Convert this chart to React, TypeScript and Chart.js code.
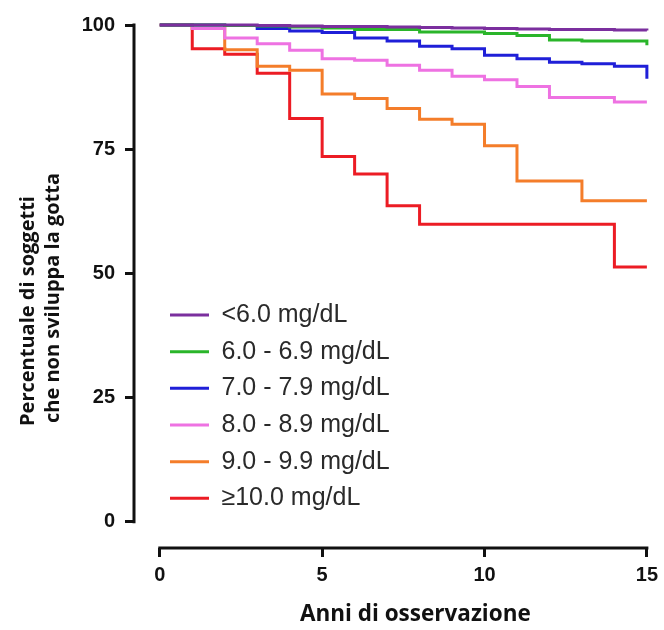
import { useEffect, useRef } from "react";
import { Chart, registerables } from "chart.js";

Chart.register(...registerables);

// ---- data ----
const years = [0, 1, 2, 3, 4, 5, 6, 7, 8, 9, 10, 11, 12, 13, 14, 15];
const seriesLabels = [
  "<6.0 mg/dL",
  "6.0 - 6.9 mg/dL",
  "7.0 - 7.9 mg/dL",
  "8.0 - 8.9 mg/dL",
  "9.0 - 9.9 mg/dL",
  "≥10.0 mg/dL",
];
const below6 = [100, 100, 100, 99.9, 99.8, 99.7, 99.7, 99.6, 99.5, 99.4, 99.3, 99.2, 99.1, 99.1, 99.0, 98.9];
const from6to69 = [100, 100, 99.9, 99.8, 99.6, 99.4, 99.1, 99.1, 98.6, 98.6, 98.3, 97.9, 97.0, 96.8, 96.8, 95.9];
const from7to79 = [100, 100, 99.9, 99.3, 98.8, 98.5, 97.4, 96.8, 95.7, 95.2, 93.9, 93.2, 92.5, 92.2, 91.7, 89.2];
const from8to89 = [100, 99.3, 97.4, 96.2, 94.9, 93.2, 92.9, 91.9, 90.9, 89.7, 89.0, 87.6, 85.4, 85.4, 84.5, 84.5];
const from9to99 = [100, 99.3, 95.0, 91.7, 90.9, 86.1, 85.2, 83.2, 81.0, 80.0, 75.7, 68.6, 68.6, 64.6, 64.6, 64.6];
const atLeast10 = [100, 95.2, 94.1, 90.3, 81.2, 73.5, 70.0, 63.6, 59.9, 59.9, 59.9, 59.9, 59.9, 59.9, 51.3, 51.3];
const seriesValues = [below6, from6to69, from7to79, from8to89, from9to99, atLeast10];
const seriesColors = ["#7b2f9e", "#2ab52a", "#1f1fd8", "#ee72e2", "#f47d2a", "#ec1c24"];
const xTicks = [0, 5, 10, 15];
const yTicks = [0, 25, 50, 75, 100];
const xTitle = "Anni di osservazione";
const yTitleLines = ["Percentuale di soggetti", "che non sviluppa la gotta"];

const AXIS_COLOR = "#111111";

const prismAxes = {
  id: "prismAxes",
  afterLayout(chart: any) {
    const lg = chart.legend;
    if (lg) {
      const ca = chart.chartArea;
      const pad = lg.options.labels.padding;
      lg.left = ca.left + 36 - pad;
      lg.right = ca.right;
      lg.top = 302.5 - pad;
      lg.bottom = ca.bottom;
      lg.width = lg.right - lg.left;
      lg.height = lg.bottom - lg.top;
    }
  },
  afterDraw(chart: any) {
    const { ctx, chartArea, scales } = chart;
    const x = scales.x;
    const y = scales.y;
    ctx.save();
    ctx.strokeStyle = AXIS_COLOR;
    ctx.lineWidth = 3;
    ctx.lineCap = "square";
    const ax = chartArea.left;
    ctx.beginPath();
    ctx.moveTo(ax, y.getPixelForValue(yTicks[yTicks.length - 1]));
    ctx.lineTo(ax, y.getPixelForValue(yTicks[0]));
    ctx.stroke();
    const ay = chartArea.bottom;
    ctx.beginPath();
    ctx.moveTo(x.getPixelForValue(xTicks[0]), ay);
    ctx.lineTo(x.getPixelForValue(xTicks[xTicks.length - 1]), ay);
    ctx.stroke();

    ctx.fillStyle = AXIS_COLOR;
    ctx.font = 'bold 22.5px "Open Sans"';
    ctx.textAlign = "center";
    ctx.textBaseline = "alphabetic";
    const xc = (x.getPixelForValue(xTicks[0]) + x.getPixelForValue(xTicks[xTicks.length - 1])) / 2 + 12;
    ctx.fillText(xTitle, xc, 621);

    ctx.font = 'bold 20px "Open Sans"';
    const centers = [311, 298];
    const baselines = [34, 59];
    yTitleLines.forEach((line, i) => {
      ctx.save();
      ctx.translate(baselines[i], centers[i]);
      ctx.rotate(-Math.PI / 2);
      ctx.fillText(line, 0, 0);
      ctx.restore();
    });
    ctx.restore();
  },
};

export default function App() {
  const ref = useRef<HTMLCanvasElement | null>(null);

  useEffect(() => {
    if (!ref.current) return;
    const datasets = seriesValues.map((vals, i) => ({
      label: seriesLabels[i],
      data: years.map((t, j) => ({ x: t, y: vals[j] })),
      borderColor: seriesColors[i],
      backgroundColor: seriesColors[i],
      borderWidth: 3,
      stepped: true as const,
      pointRadius: 0,
      fill: false,
      clip: false as const,
    }));

    const tickFont = { family: '"Liberation Sans", Arial, sans-serif', size: 20, weight: "bold" as const };

    const chart = new Chart(ref.current, {
      type: "line",
      data: { datasets },
      plugins: [prismAxes],
      options: {
        animation: false,
        responsive: false,
        layout: { padding: { top: 25, right: 13, bottom: 0, left: 0 } },
        plugins: {
          tooltip: { enabled: false },
          legend: {
            position: "chartArea" as any,
            align: "start",
            labels: {
              font: { family: '"Liberation Sans", Arial, sans-serif', size: 25 },
              color: "#2a2a2a",
              boxWidth: 39,
              boxHeight: 3,
              padding: 11.66,
              generateLabels: (c: any) =>
                Chart.defaults.plugins.legend.labels.generateLabels(c).map((l: any) => ({
                  ...l,
                  lineWidth: 0,
                  fillStyle: l.strokeStyle,
                })),
            },
          },
        },
        scales: {
          x: {
            type: "linear",
            min: -0.794,
            max: 15,
            afterFit: (s: any) => {
              s.height = 82;
            },
            afterBuildTicks: (s: any) => {
              s.ticks = xTicks.map((v) => ({ value: v }));
            },
            border: { display: false },
            grid: {
              drawOnChartArea: false,
              drawTicks: true,
              tickLength: 9,
              color: AXIS_COLOR,
              lineWidth: 3,
            },
            ticks: {
              font: tickFont,
              color: AXIS_COLOR,
              padding: 6,
              maxRotation: 0,
              autoSkip: false,
            },
          },
          y: {
            type: "linear",
            min: -5.3,
            max: 100,
            afterFit: (s: any) => {
              s.width = 134;
            },
            afterBuildTicks: (s: any) => {
              s.ticks = yTicks.map((v) => ({ value: v }));
            },
            border: { display: false },
            grid: {
              drawOnChartArea: false,
              drawTicks: true,
              tickLength: 9,
              color: AXIS_COLOR,
              lineWidth: 3,
            },
            ticks: {
              font: tickFont,
              color: AXIS_COLOR,
              padding: 10,
              autoSkip: false,
            },
          },
        },
      },
    });
    return () => chart.destroy();
  }, []);

  return (
    <div style={{ position: "absolute", left: 0, top: 0, width: 664, height: 630, background: "#fff" }}>
      <canvas ref={ref} width={664} height={630} style={{ display: "block" }} />
    </div>
  );
}
